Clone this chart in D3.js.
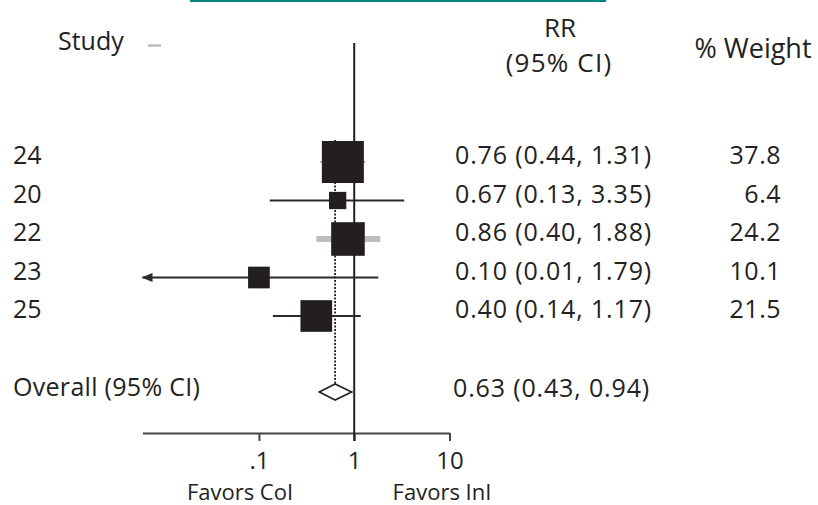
<!DOCTYPE html>
<html>
<head>
<meta charset="utf-8">
<script src="https://cdn.jsdelivr.net/npm/d3@7"></script>
<style>
  html, body { margin: 0; padding: 0; background: #fff; }
  svg { display: block; }
  text { font-family: "Open Sans", "DejaVu Sans", sans-serif; fill: #222; }
</style>
</head>
<body>
<svg id="chart" width="818" height="505"></svg>
<script>
// ---- data ----
const studies = ["24", "20", "22", "23", "25"];
const rr      = [0.76, 0.67, 0.86, 0.10, 0.40];
const ciLow   = [0.44, 0.13, 0.40, 0.0057, 0.14];
const ciHigh  = [1.31, 3.35, 1.88, 1.79, 1.17];
const weights = [37.8, 6.4, 24.2, 10.1, 21.5];
const overall = { label: "Overall (95% CI)", rr: 0.63, low: 0.43, high: 0.94 };
const tickValues = [0.1, 1, 10];
const tickLabels = [".1", "1", "10"];
const favorLabels = ["Favors CoI", "Favors InI"];
const axisMin = 0.006, axisMax = 10;

// ---- layout ----
const svg = d3.select("#chart");
const x = d3.scaleLog().domain([axisMin, axisMax]).range([142.5, 449.5]);
const y = d3.scalePoint().domain(studies).range([162, 316]);
const yOverall = 392;
const size = d3.scaleSqrt().domain([0, d3.max(weights)]).range([0, 42]);
const fmt = d3.format(".2f");
const rows = studies.map((s, i) => ({ s, rr: rr[i], lo: ciLow[i], hi: ciHigh[i], w: weights[i] }));

// teal rule at top
svg.append("line").attr("x1", 190).attr("x2", 606).attr("y1", 1).attr("y2", 1)
  .attr("stroke", "#00847e").attr("stroke-width", 2);

// headers
svg.append("text").attr("x", 58).attr("y", 50).attr("font-size", 25).text("Study");
svg.append("line").attr("x1", 148).attr("x2", 161).attr("y1", 45.5).attr("y2", 45.5)
  .attr("stroke", "#bbb").attr("stroke-width", 2.5);
svg.append("text").attr("x", 560).attr("y", 37).attr("text-anchor", "middle").attr("font-size", 26).text("RR");
svg.append("text").attr("x", 559).attr("y", 72).attr("text-anchor", "middle").attr("font-size", 26)
  .attr("letter-spacing", 1.2).text("(95% CI)");
svg.append("text").attr("x", 753).attr("y", 58).attr("text-anchor", "middle").attr("font-size", 27).text("% Weight");

// axis
const axisY = 433;
const axis = d3.axisBottom(x).tickValues(tickValues).tickFormat((d, i) => tickLabels[i]).tickSize(8).tickSizeOuter(0);
const gAxis = svg.append("g").attr("transform", `translate(0,${axisY})`).call(axis);
gAxis.select(".domain").attr("stroke", "#444").attr("stroke-width", 2);
gAxis.selectAll(".tick line").attr("stroke", "#444").attr("stroke-width", 2);
gAxis.selectAll(".tick text").attr("font-size", 24).attr("font-family", "Open Sans")
  .attr("fill", "#222").attr("y", 36).attr("dy", 0);

svg.append("text").attr("x", 240).attr("y", 500).attr("text-anchor", "middle").attr("font-size", 22).text(favorLabels[0]);
svg.append("text").attr("x", 442).attr("y", 500).attr("text-anchor", "middle").attr("font-size", 22).text(favorLabels[1]);

// null line
svg.append("line").attr("x1", x(1)).attr("x2", x(1)).attr("y1", 43).attr("y2", axisY + 8)
  .attr("stroke", "#222").attr("stroke-width", 2);

// overall dotted line
svg.append("line").attr("x1", x(overall.rr)).attr("x2", x(overall.rr)).attr("y1", 140).attr("y2", yOverall - 8)
  .attr("stroke", "#222").attr("stroke-width", 1.8).attr("stroke-dasharray", "2,1.5");

// whiskers
const whiskerStyle = { "24": ["#999", 1.5], "22": ["#bdbdbd", 6] };
rows.forEach(r => {
  const st = whiskerStyle[r.s] || ["#2a2a2a", 2];
  const x1 = x(Math.max(r.lo, axisMin)), x2 = x(Math.min(r.hi, axisMax));
  svg.append("line").attr("x1", x1).attr("x2", x2).attr("y1", y(r.s)).attr("y2", y(r.s))
    .attr("stroke", st[0]).attr("stroke-width", st[1]);
  if (r.lo < axisMin) {
    svg.append("path")
      .attr("d", `M${x1 - 1},${y(r.s)} L${x1 + 10},${y(r.s) - 4.5} L${x1 + 10},${y(r.s) + 4.5} Z`)
      .attr("fill", "#2a2a2a");
  }
});

// boxes
svg.selectAll("rect.box").data(rows).enter().append("rect").attr("class", "box")
  .attr("x", d => x(d.rr) - size(d.w) / 2)
  .attr("y", d => y(d.s) - size(d.w) / 2)
  .attr("width", d => size(d.w)).attr("height", d => size(d.w))
  .attr("fill", "#231f20");

// diamond
svg.append("path")
  .attr("d", `M${x(overall.low)},${yOverall} L${x(overall.rr)},${yOverall - 8} L${x(overall.high)},${yOverall} L${x(overall.rr)},${yOverall + 8} Z`)
  .attr("fill", "#fff").attr("stroke", "#222").attr("stroke-width", 1.6);

// row texts
svg.selectAll("text.study").data(rows).enter().append("text").attr("class", "study")
  .attr("x", 13).attr("y", d => y(d.s) + 2).attr("font-size", 25).text(d => d.s);
svg.selectAll("text.ci").data(rows).enter().append("text").attr("class", "ci")
  .attr("x", 455).attr("y", d => y(d.s) + 2).attr("font-size", 25).attr("letter-spacing", 0.85)
  .text(d => `${fmt(d.rr)} (${fmt(d.lo)}, ${fmt(d.hi)})`);
svg.selectAll("text.wt").data(rows).enter().append("text").attr("class", "wt")
  .attr("x", 781).attr("y", d => y(d.s) + 2).attr("text-anchor", "end").attr("font-size", 25)
  .attr("letter-spacing", 0.5).text(d => d.w.toFixed(1));

svg.append("text").attr("x", 13).attr("y", yOverall + 4).attr("font-size", 25).attr("letter-spacing", 0.3).text(overall.label);
svg.append("text").attr("x", 453).attr("y", yOverall + 5).attr("font-size", 25).attr("letter-spacing", 0.85)
  .text(`${fmt(overall.rr)} (${fmt(overall.low)}, ${fmt(overall.high)})`);
</script>
</body>
</html>
